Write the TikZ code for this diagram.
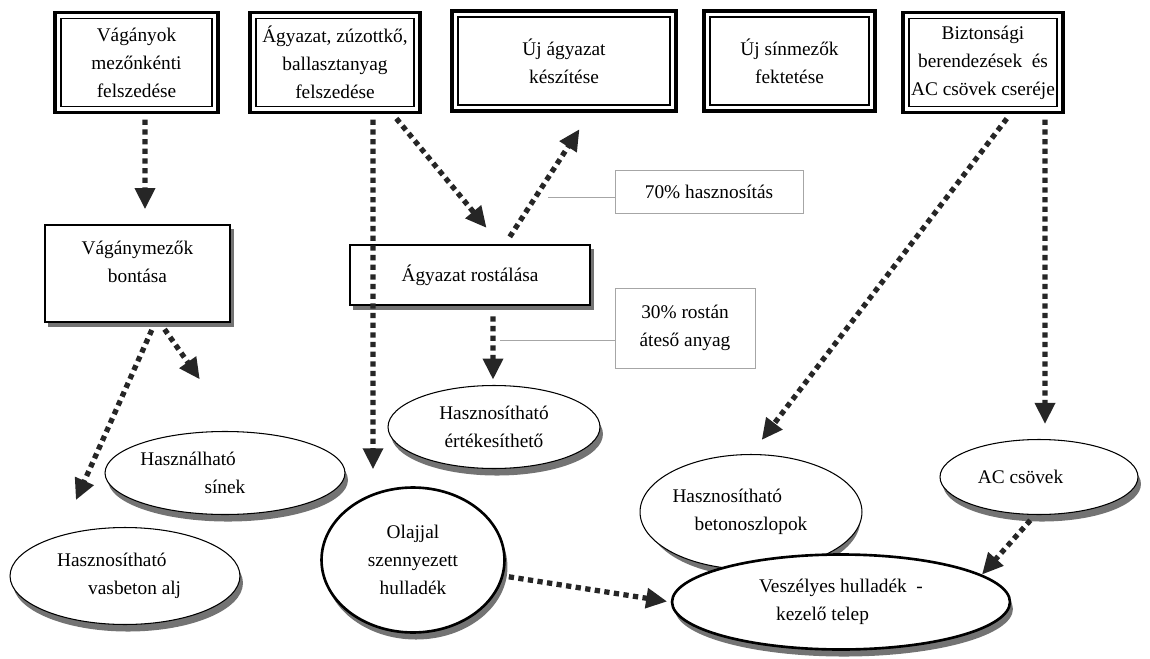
\documentclass[tikz,border=0pt]{standalone}
\usepackage{fontspec}
\setmainfont{Liberation Serif}
\usetikzlibrary{shapes.geometric, arrows.meta, backgrounds}

\begin{document}
\begin{tikzpicture}[x=0.02cm, y=-0.02cm,
  every node/.style={font=\fontsize{11}{16}\selectfont, align=center, inner sep=2pt},
  dblbox/.style={draw, line width=2.2pt, minimum width=#1, minimum height=2cm,
    path picture={\draw[line width=0.8pt] ([shift={(3.3pt,-3.3pt)}]path picture bounding box.north west)
      rectangle ([shift={(-3.3pt,3.3pt)}]path picture bounding box.south east);}},
  procbox/.style={draw, line width=0.9pt, fill=white},
  blob/.style={ellipse, draw, fill=white, line width=0.6pt, inner sep=0pt},
  shadowfill/.style={fill=black!55},
  note/.style={draw=gray!70, line width=0.5pt, inner sep=3pt},
  notelink/.style={draw=gray!70, line width=0.5pt},
  flow/.style={draw=black!85, line width=3pt, dash pattern=on 3pt off 2.5pt,
    -{Triangle[length=12pt, width=11pt]}}
]
\useasboundingbox (0,0) rectangle (1150,659);

% top row
\node[dblbox=3.26cm] (felszed) at (136.5,62.5) {Vágányok\\mezőnkénti\\felszedése};
\node[dblbox=3.4cm] (agyfel) at (335,62.5) {Ágyazat, zúzottkő,\\ballasztanyag\\felszedése};
\node[dblbox=4.48cm] (ujagy) at (564,61) {Új ágyazat\\készítése};
\node[dblbox=3.42cm] (ujsin) at (789.5,61) {Új sínmezők\\fektetése};
\node[dblbox=3.2cm] (bizt) at (983,62.5) {Biztonsági\\berendezések\ \ és\\AC csövek cseréje};

% middle
\node[procbox, minimum width=3.7cm, minimum height=1.94cm] (bontas) at (137.5,273.5)
  {Vágánymezők\\bontása\rule[-13pt]{0pt}{13pt}};
\node[procbox, minimum width=4.8cm, minimum height=1.2cm] (rosta) at (470,275) {Ágyazat rostálása};
\node[note, minimum width=3.76cm, minimum height=0.86cm] (p70) at (709,191.5) {70\% hasznosítás};
\node[note, minimum width=2.8cm, minimum height=1.6cm] (p30) at (685,328) {30\% rostán\\áteső anyag};

% products
\node[blob, minimum width=4.6cm, minimum height=1.94cm] (vasbeton) at (125,576)
  {Hasznosítható\rule{15pt}{0pt}\\\rule{11pt}{0pt}vasbeton alj};
\node[blob, minimum width=4.8cm, minimum height=1.66cm] (sinek) at (225,473)
  {Használható\rule{42pt}{0pt}\\sínek};
\node[blob, line width=1.5pt, minimum width=3.66cm, minimum height=2.9cm] (olaj) at (413,560)
  {Olajjal\\szennyezett\\hulladék};
\node[blob, minimum width=4.24cm, minimum height=1.66cm] (ertek) at (494,427)
  {Hasznosítható\\értékesíthető};
\node[blob, minimum width=4.26cm, minimum height=2.3cm] (beton) at (751,512)
  {Hasznosítható\rule{27pt}{0pt}\\betonoszlopok};
\node[blob, minimum width=3.96cm, minimum height=1.5cm] (accso) at (1039,477)
  {AC csövek\rule{21pt}{0pt}};
\node[blob, line width=1.5pt, minimum width=6.76cm, minimum height=1.9cm] (veszely) at (841,602)
  {Veszélyes hulladék\ \ -\\kezelő telep\rule{21pt}{0pt}};

% shadows
\begin{scope}[on background layer]
  \foreach \n in {bontas, rosta}
    \fill[shadowfill] ([shift={(2pt,-2.5pt)}]\n.south west) rectangle ([shift={(2pt,-2.5pt)}]\n.north east);
  \foreach \n/\rx/\ry in {vasbeton/2.3/0.97, sinek/2.4/0.83, olaj/1.83/1.45, ertek/2.12/0.83,
                         beton/2.13/1.15, accso/1.98/0.75, veszely/3.38/0.95}
    \fill[shadowfill] ([shift={(1.7pt,-4pt)}]\n.center) ellipse [x radius=\rx cm, y radius=\ry cm];
\end{scope}

% note links
\coordinate (l70) at (548,197);
\coordinate (l30) at (500,340);
\draw[notelink] (l70) -- (l70 -| p70.west);
\draw[notelink] (l30) -- (l30 -| p30.west);

% flows
\draw[flow, shorten <=3pt, shorten >=8.5pt] ([xshift=0.17cm]felszed.south) -- ([xshift=0.15cm]bontas.north);
\draw[flow, shorten <=4.5pt, shorten >=22pt] ([xshift=0.35cm]bontas.south) -- (vasbeton.148);
\draw[flow, shorten <=4.5pt, shorten >=36pt] ([xshift=0.45cm]bontas.south) -- (sinek.75);
\draw[flow, shorten <=3pt, shorten >=9.6pt] ([xshift=0.76cm]agyfel.south) -- ([xshift=-0.8cm]olaj.north);
\draw[flow, shorten <=3pt, shorten >=12pt] ([xshift=1.16cm]agyfel.south) -- ([xshift=0.6cm]rosta.north);
\draw[flow, shorten <=5pt, shorten >=11pt] ([xshift=0.7cm]rosta.north) -- ([xshift=0.52cm]ujagy.south);
\draw[flow, shorten <=6pt, shorten >=3pt] ([xshift=0.46cm]rosta.south) -- ([xshift=-0.02cm]ertek.north);
\draw[flow, shorten <=3pt, shorten >=10pt] ([xshift=0.54cm]bizt.south) -- (beton.north);
\draw[flow, shorten <=3pt, shorten >=8.5pt] ([xshift=1.24cm]bizt.south) -- ([xshift=0.12cm]accso.north);
\draw[flow, shorten <=4pt] ([xshift=-0.08cm]accso.south) -- (veszely.11);
\draw[flow, shorten <=3pt, shorten >=2pt] (olaj.-10) -- (veszely.west);
\end{tikzpicture}
\end{document}
